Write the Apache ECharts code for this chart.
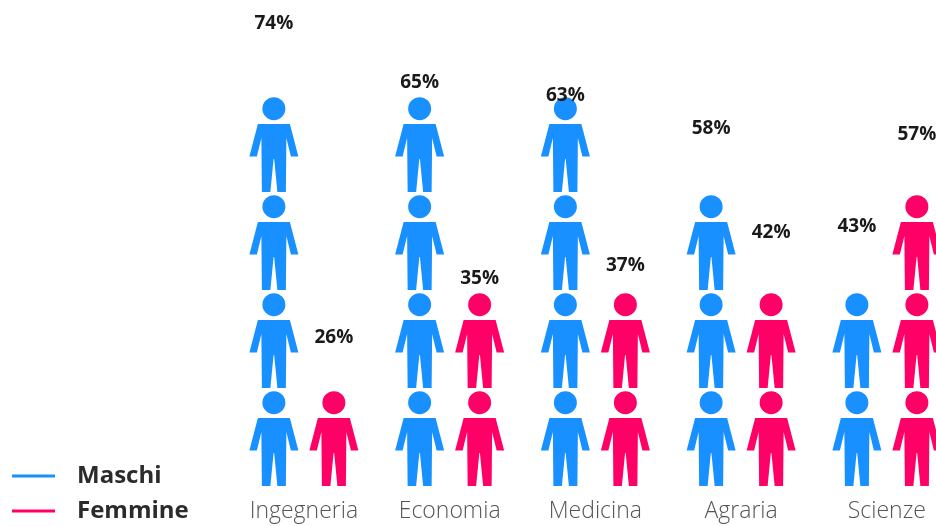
<!DOCTYPE html>
<html><head><meta charset="utf-8">
<style>html,body{margin:0;padding:0;background:#fff;overflow:hidden}#c{width:936px;height:526px}</style>
<script src="https://cdn.jsdelivr.net/npm/echarts@6/dist/echarts.min.js"></script>
</head><body><div id="c"></div>
<script>
const categories = ['Ingegneria','Economia','Medicina','Agraria','Scienze'];
const malePercent = [74,65,63,58,43];
const femalePercent = [26,35,37,42,57];
const maleFigures = [4,4,4,3,2];
const femaleFigures = [1,2,2,2,3];
const BLUE='#1890ff', PINK='#ff0066';
const person='path://M24.5 0L24.5 0ZM13 14.7a11.5 11.5 0 1 0 23 0a11.5 11.5 0 1 0 -23 0ZM8.5 30L40.5 30L49 62.5L41.5 62.5L37 44L36.5 98L28 98L24.8 65L24.2 65L21 98L12.5 98L12 44L7.5 62.5L0 62.5Z';
const pict=(name,data,color)=>({name,type:'pictorialBar',data,xAxisIndex:0,yAxisIndex:0,symbol:person,symbolSize:[49,98],symbolRepeat:true,symbolMargin:0,symbolPosition:'start',barWidth:48,barGap:'25%',itemStyle:{color},z:2,clip:false,animation:false});
const lab=(name,data)=>({name,type:'bar',data,xAxisIndex:0,yAxisIndex:1,barWidth:48,barGap:'25%',itemStyle:{color:'transparent'},z:3,animation:false,
  label:{show:true,position:'top',distance:2,formatter:'{c}%',fontFamily:'Open Sans',fontWeight:'bold',fontSize:19,color:'#1a1a1a'}});
const leg=(name,top,extra)=>({data:[name],left:12,top,orient:'horizontal',icon:'rect',itemWidth:43,itemHeight:3,itemGap:0,padding:0,selectedMode:false,
  textStyle:Object.assign({fontFamily:'Open Sans',fontWeight:'bold',fontSize:24,color:'#2b2b2b',padding:[0,0,0,17]},extra)});
const chart=echarts.init(document.getElementById('c'),null,{renderer:'canvas'});
chart.setOption({
  animation:false,
  grid:{left:231,top:-4,width:728.75,height:490,containLabel:false,outerBoundsMode:'none'},
  legend:[leg('Maschi',464,{}),leg('Femmine',499,{padding:[0,0,24,17]})],
  xAxis:[{type:'category',data:categories,axisLine:{show:false},axisTick:{show:false},
    axisLabel:{margin:14,interval:0,fontFamily:'Open Sans',fontWeight:300,fontSize:23,color:'#555'}}],
  yAxis:[{type:'value',min:0,max:5,show:false,splitLine:{show:false}},
         {type:'value',min:5,max:80,show:false,splitLine:{show:false}}],
  series:[pict('Maschi',maleFigures,BLUE),pict('Femmine',femaleFigures,PINK),
          lab('Maschi %',malePercent),lab('Femmine %',femalePercent)]
});
</script></body></html>
